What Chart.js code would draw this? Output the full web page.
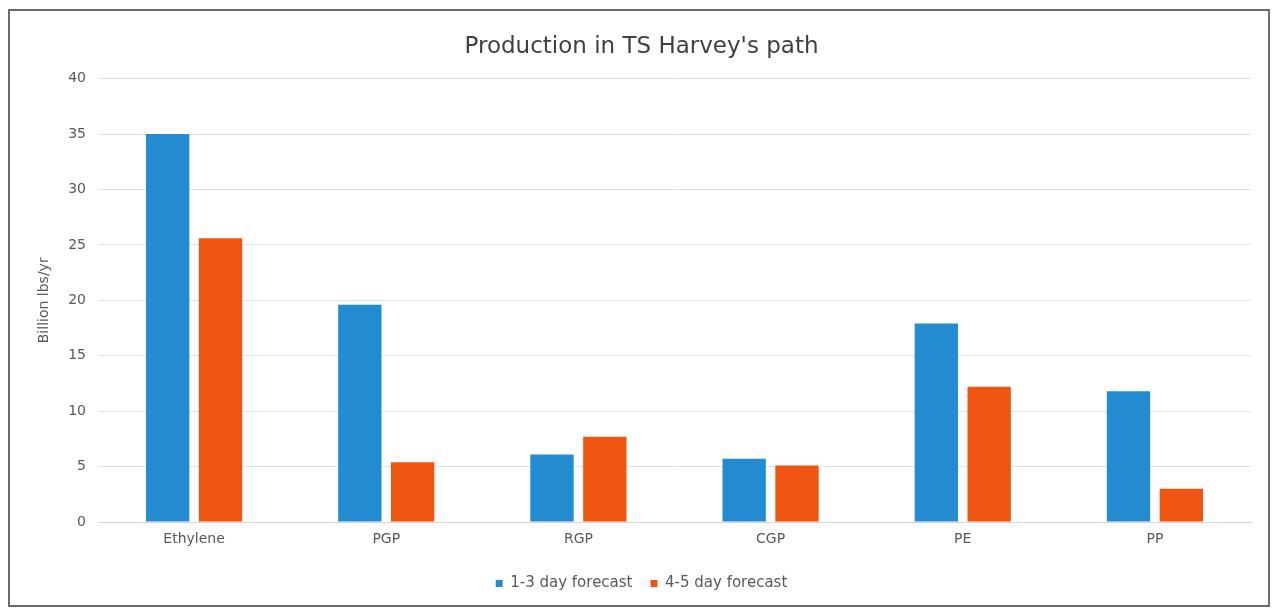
<!DOCTYPE html>
<html>
<head>
<meta charset="utf-8">
<script src="https://cdn.jsdelivr.net/npm/chart.js@4/dist/chart.umd.min.js"></script>
<style>
  html, body { margin: 0; padding: 0; background: #ffffff; }
  #box {
    position: absolute; left: 8px; top: 9px; width: 1262px; height: 598px;
    box-sizing: border-box; border: 2px solid #6a6a6a; background: #ffffff;
  }
  #c { display: block; }
</style>
</head>
<body>
<div id="box"><canvas id="c" width="1258" height="594"></canvas></div>
<script>
const categories = ["Ethylene", "PGP", "RGP", "CGP", "PE", "PP"];
const forecast13 = [35.0, 19.6, 6.1, 5.7, 17.9, 11.8];
const forecast45 = [25.6, 5.4, 7.7, 5.1, 12.2, 3.0];
const seriesNames = ["1-3 day forecast", "4-5 day forecast"];
const yTicks = [0, 5, 10, 15, 20, 25, 30, 35, 40];

const FONT = "'DejaVu Sans', 'Liberation Sans', Arial, sans-serif";

new Chart(document.getElementById('c'), {
  type: 'bar',
  data: {
    labels: categories,
    datasets: [
      { label: seriesNames[0], data: forecast13, backgroundColor: '#238bd0',
        barPercentage: 0.82, categoryPercentage: 0.55 },
      { label: seriesNames[1], data: forecast45, backgroundColor: '#ef5410',
        barPercentage: 0.82, categoryPercentage: 0.55 }
    ]
  },
  options: {
    responsive: false,
    animation: false,
    layout: { padding: { left: 22, right: 17, top: 0, bottom: 4 } },
    plugins: {
      title: {
        display: true,
        text: "Production in TS Harvey's path",
        color: '#404040',
        font: { family: FONT, size: 23, weight: 'normal' },
        padding: { top: 22, bottom: 18 }
      },
      legend: {
        position: 'bottom',
        labels: {
          color: '#595959',
          font: { family: FONT, size: 15 },
          boxWidth: 7, boxHeight: 7,
          padding: 18
        }
      },
      tooltip: { enabled: false }
    },
    scales: {
      x: {
        grid: { display: false, drawTicks: false },
        border: { display: true, color: '#d4d4d4', width: 1 },
        ticks: { color: '#595959', font: { family: FONT, size: 14 }, padding: 9 },
        afterFit: (s) => { s.height = 36; }
      },
      y: {
        min: 0, max: 40,
        afterBuildTicks: (s) => { s.ticks = yTicks.map(v => ({ value: v })); },
        grid: { color: '#e2e2e2', drawTicks: false },
        border: { display: false },
        ticks: { color: '#595959', font: { family: FONT, size: 14 }, padding: 12 },
        title: {
          display: true, text: 'Billion lbs/yr', color: '#595959',
          font: { family: FONT, size: 14 }, padding: { top: 4, bottom: 4 }
        },
        afterFit: (s) => { s.width = 66; }
      }
    }
  }
});
</script>
</body>
</html>
